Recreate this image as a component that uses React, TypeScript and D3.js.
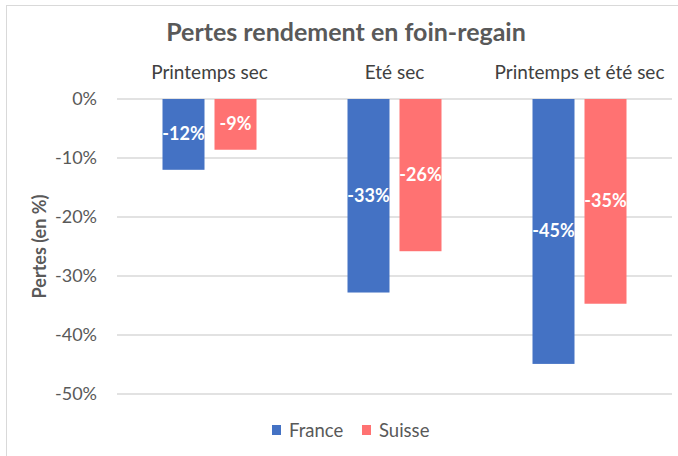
import React from "react";
import * as d3 from "d3";

const categories = ["Printemps sec", "Eté sec", "Printemps et été sec"];
const seriesNames = ["France", "Suisse"];
const france = [-12.0, -32.8, -44.9];
const suisse = [-8.6, -25.8, -34.7];
const yTicks = [0, -10, -20, -30, -40, -50];
const colors = ["#4472C4", "#FF7272"];

const W = 678, H = 456;
const plot = { left: 117, right: 672, top: 99, bottom: 394 };
const font = "Lato, 'Open Sans', sans-serif";

export default function App() {
  const x = d3.scaleBand<string>().domain(categories).range([plot.left, plot.right]).paddingInner(0).paddingOuter(0);
  const y = d3.scaleLinear().domain([0, -50]).range([plot.top, plot.bottom]);
  const series = [france, suisse];
  const barW = 42;
  const gap = 10;
  return (
    <svg width={W} height={H} style={{ position: "absolute", left: 0, top: 0 }} fontFamily={font}>
      <rect x={0} y={0} width={W} height={H} fill="#fff" />
      <line x1={6.5} x2={6.5} y1={5} y2={H} stroke="#d9d9d9" />
      <line x1={6} x2={W} y1={5.5} y2={5.5} stroke="#d9d9d9" />
      <text x={346} y={41} textAnchor="middle" fontSize={25} fontWeight="bold" fill="#595959">Pertes rendement en foin-regain</text>
      {yTicks.map((t) => (
        <g key={t}>
          <line x1={plot.left} x2={plot.right} y1={y(t)} y2={y(t)} stroke="#d9d9d9" strokeWidth={1.5} />
          <text x={97} y={y(t) + 6} textAnchor="end" fontSize={18} fill="#595959">{t + "%"}</text>
        </g>
      ))}
      {categories.map((c) => (
        <text key={c} x={x(c)! + x.bandwidth() / 2} y={79} textAnchor="middle" fontSize={19} fill="#404040">{c}</text>
      ))}
      <text transform={`translate(46,${(plot.top + plot.bottom) / 2}) rotate(-90)`} textAnchor="middle" fontSize={18} fontWeight="bold" fill="#595959">Pertes (en %)</text>
      {categories.map((c, i) => {
        const cx = x(c)! + x.bandwidth() / 2;
        return series.map((s, j) => {
          const bx = j === 0 ? cx - gap / 2 - barW : cx + gap / 2;
          const y0 = y(0), y1 = y(s[i]);
          return (
            <g key={c + j}>
              <rect x={bx} y={y0} width={barW} height={y1 - y0} fill={colors[j]} />
              <text x={bx + barW / 2} y={(y0 + y1) / 2 + 6} textAnchor="middle" fontSize={18} fontWeight="bold" fill="#fff">{Math.round(s[i]) + "%"}</text>
            </g>
          );
        });
      })}
      {seriesNames.map((n, j) => {
        const lx = j === 0 ? 272 : 362;
        return (
          <g key={n}>
            <rect x={lx} y={425} width={9} height={10} fill={colors[j]} />
            <text x={lx + 17} y={437} fontSize={18.5} fill="#595959">{n}</text>
          </g>
        );
      })}
    </svg>
  );
}
